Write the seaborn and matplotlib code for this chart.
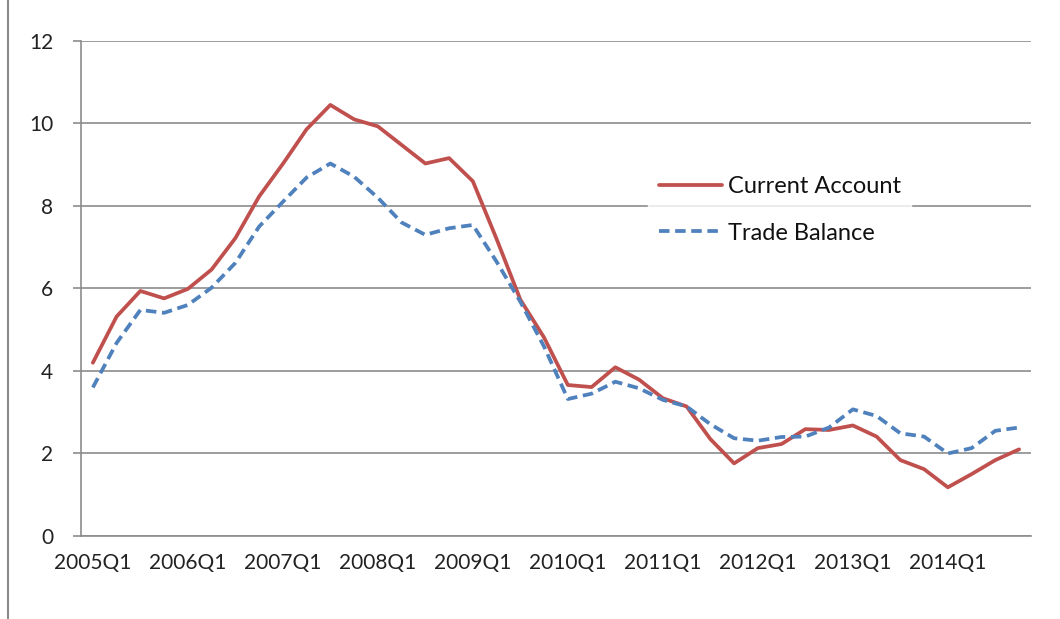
import pandas as pd
import matplotlib
matplotlib.use("Agg")
import matplotlib.pyplot as plt
import seaborn as sns
from matplotlib.lines import Line2D

# quarters 2005Q1 .. 2014Q4
quarters = [f"{y}Q{q}" for y in range(2005, 2015) for q in range(1, 5)]

# Current account balance
current_account = [4.20, 5.32, 5.94, 5.76, 5.99, 6.46, 7.22, 8.23, 9.02, 9.86,
                   10.45, 10.10, 9.93, 9.48, 9.03, 9.16, 8.60, 7.20, 5.73, 4.81,
                   3.66, 3.61, 4.09, 3.79, 3.34, 3.14, 2.35, 1.76, 2.13, 2.23,
                   2.59, 2.57, 2.68, 2.41, 1.84, 1.62, 1.18, 1.50, 1.84, 2.10]

# Trade balance
trade_balance = [3.60, 4.68, 5.48, 5.41, 5.60, 6.02, 6.62, 7.50, 8.10, 8.69,
                 9.03, 8.71, 8.20, 7.60, 7.30, 7.46, 7.54, 6.65, 5.68, 4.59,
                 3.32, 3.45, 3.74, 3.58, 3.30, 3.14, 2.71, 2.37, 2.31, 2.40,
                 2.41, 2.63, 3.07, 2.91, 2.49, 2.41, 2.00, 2.13, 2.55, 2.63]

xtick_labels = [f"{y}Q1" for y in range(2005, 2015)]
yticks = [0, 2, 4, 6, 8, 10, 12]

df = pd.DataFrame({"quarter": quarters,
                   "Current Account": current_account,
                   "Trade Balance": trade_balance})
df["pos"] = range(len(df))

sns.set_theme(style="white")
plt.rcParams["font.family"] = ["Lato", "DejaVu Sans"]

fig = plt.figure(figsize=(10.6, 6.19), dpi=100)
ax = fig.add_axes([0.0764, 0.1341, 0.8962, 0.7997])

red = "#C0504D"
blue = "#4F81BD"
sns.lineplot(data=df, x="pos", y="Current Account", ax=ax, color=red,
             linewidth=2.7, label="Current Account")
sns.lineplot(data=df, x="pos", y="Trade Balance", ax=ax, color=blue,
             linewidth=2.7, label="Trade Balance", dashes=False)
ax.lines[1].set_dashes((2.8, 1.5))

ax.set_xlim(-0.5, len(quarters) - 0.5)
ax.set_ylim(0, 12)
ax.set_yticks(yticks)
ax.set_yticklabels([str(v) for v in yticks], fontsize=15, color="#222222")
ax.set_xticks([quarters.index(l) for l in xtick_labels])
ax.set_xticklabels(xtick_labels, fontsize=15, color="#222222")
ax.set_xlabel("")
ax.set_ylabel("")

grid_c = "#8c8c8c"
ax.yaxis.grid(True, color=grid_c, linewidth=1.2)
ax.set_axisbelow(True)
for s in ["top", "right"]:
    ax.spines[s].set_visible(False)
for s in ["left", "bottom"]:
    ax.spines[s].set_color(grid_c)
    ax.spines[s].set_linewidth(1.2)
ax.tick_params(axis="y", length=6, width=1.2, color=grid_c, pad=14, left=True)
ax.tick_params(axis="x", length=0, pad=12)

leg = ax.legend(loc="center left", bbox_to_anchor=(0.597, 0.659),
                fontsize=17, frameon=True, handlelength=2.67,
                handletextpad=0.25, labelspacing=1.1, borderaxespad=0,
                borderpad=0.45, fancybox=False)
leg.get_frame().set_facecolor("white")
leg.get_frame().set_edgecolor("white")
for t in leg.get_texts():
    t.set_color("#111111")

# left border of the original chart frame
fig.add_artist(Line2D([0.0075, 0.0075], [0, 1], color="#8a8a8a", linewidth=1.5,
                      transform=fig.transFigure))

fig.savefig("out.png", dpi=100)
